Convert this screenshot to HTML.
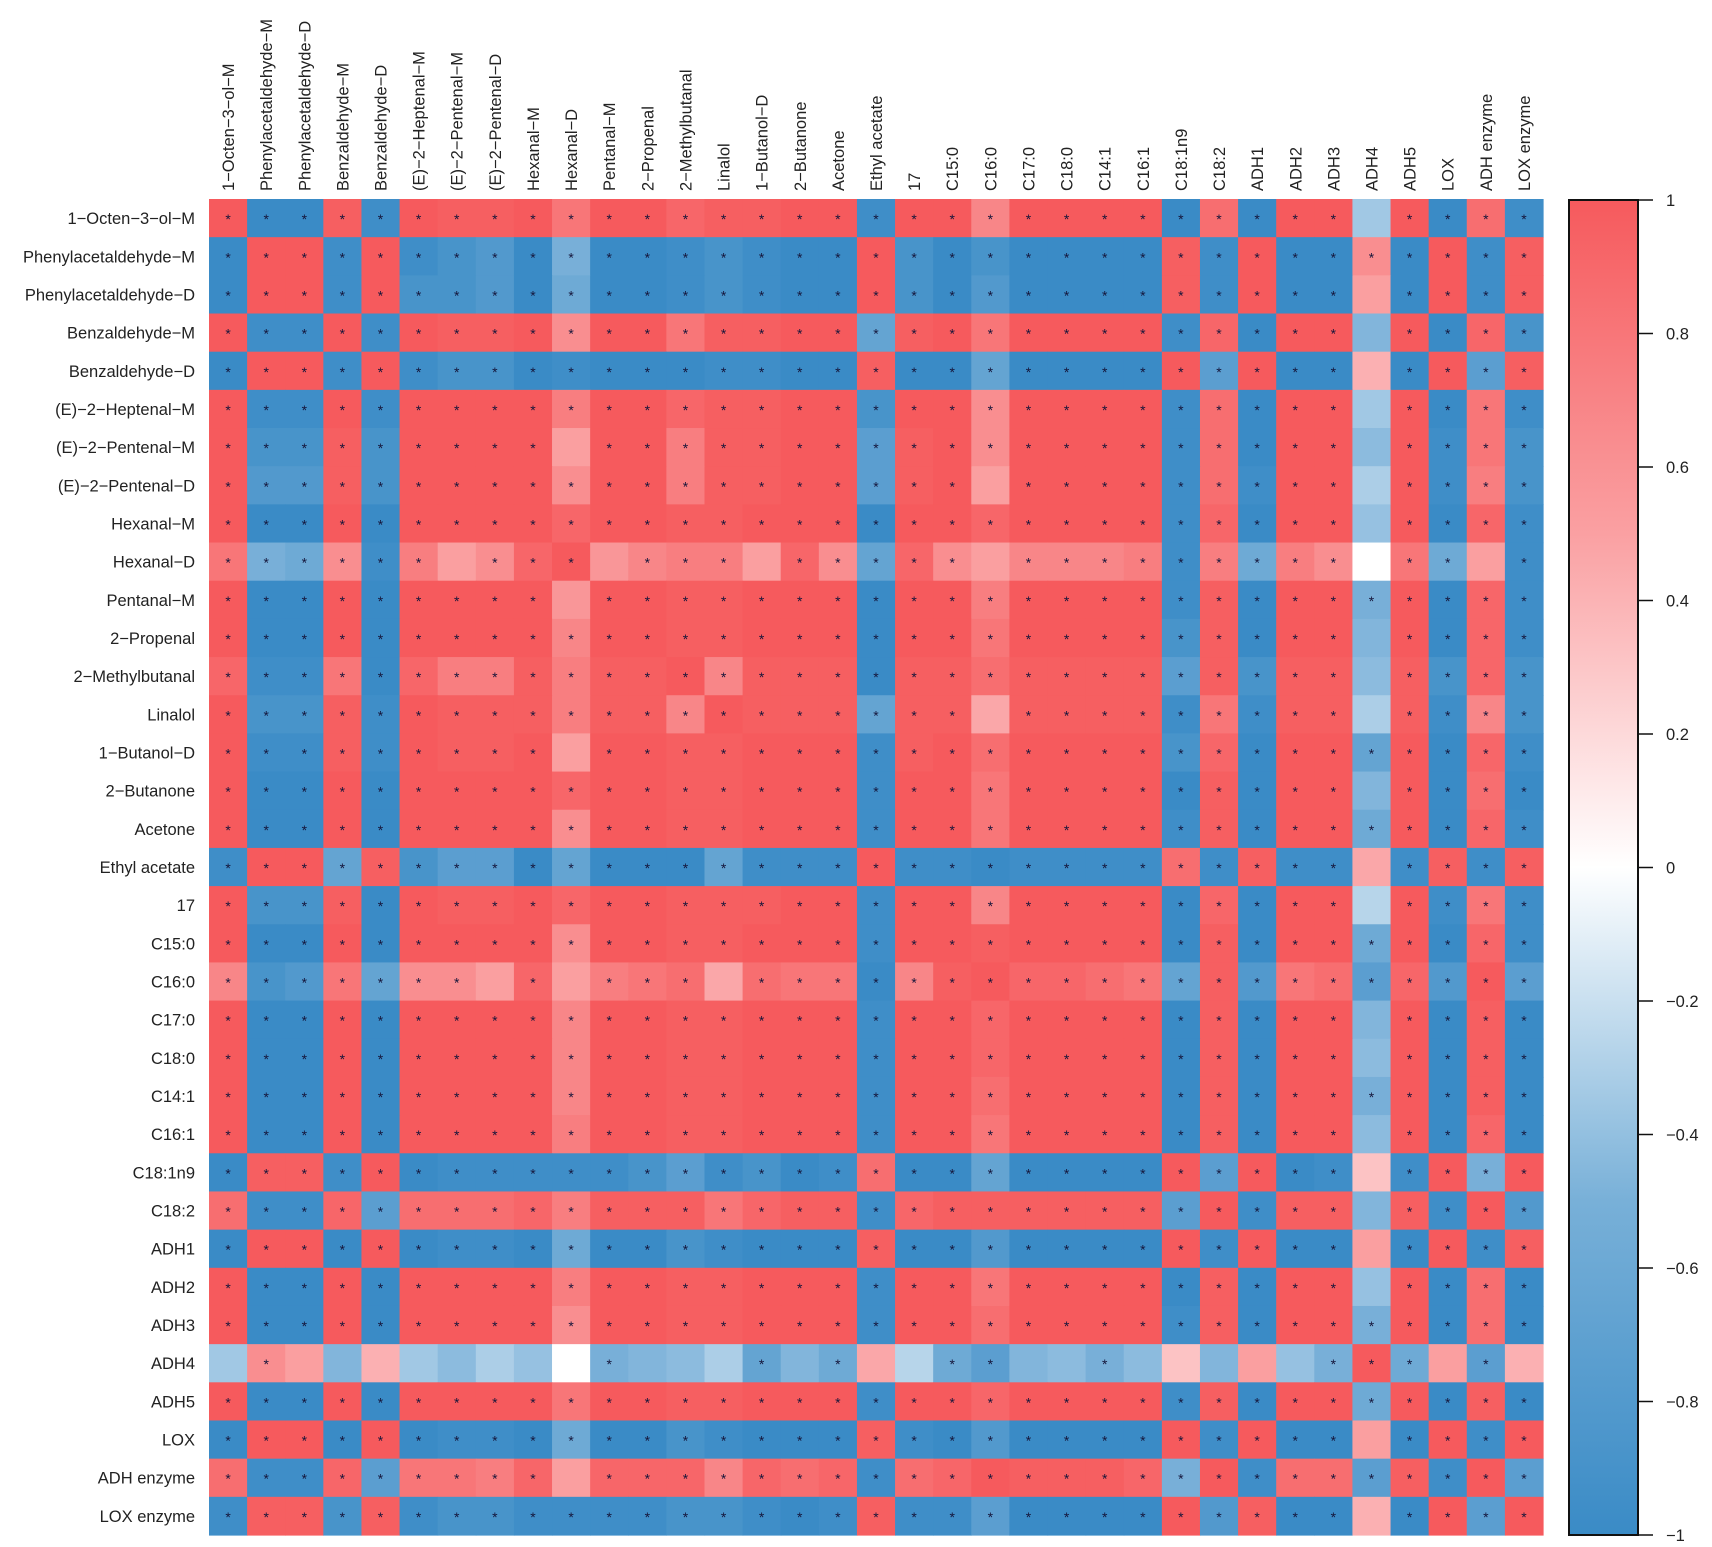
<!DOCTYPE html>
<html><head><meta charset="utf-8"><style>
html,body{margin:0;padding:0;background:#fff;}
svg{display:block;font-family:"Liberation Sans",sans-serif;}
</style></head><body>
<svg id="chart" width="1712" height="1547" viewBox="0 0 1712 1547">
<defs>
<linearGradient id="cbg" x1="0" y1="1" x2="0" y2="0">
<stop offset="0" stop-color="rgb(58,139,198)"/>
<stop offset="0.25" stop-color="rgb(120,176,216)"/>
<stop offset="0.5" stop-color="rgb(255,255,255)"/>
<stop offset="0.75" stop-color="rgb(250,160,162)"/>
<stop offset="1" stop-color="rgb(246,90,93)"/>
</linearGradient>
</defs>
<g id="cells"></g>
<g id="rowlabels"></g>
<g id="collabels"></g>
<g id="colorbar"></g>
</svg>
<script>
const labels = ["1\u2212Octen\u22123\u2212ol\u2212M","Phenylacetaldehyde\u2212M","Phenylacetaldehyde\u2212D","Benzaldehyde\u2212M","Benzaldehyde\u2212D","(E)\u22122\u2212Heptenal\u2212M","(E)\u22122\u2212Pentenal\u2212M","(E)\u22122\u2212Pentenal\u2212D","Hexanal\u2212M","Hexanal\u2212D","Pentanal\u2212M","2\u2212Propenal","2\u2212Methylbutanal","Linalol","1\u2212Butanol\u2212D","2\u2212Butanone","Acetone","Ethyl acetate","17","C15:0","C16:0","C17:0","C18:0","C14:1","C16:1","C18:1n9","C18:2","ADH1","ADH2","ADH3","ADH4","ADH5","LOX","ADH enzyme","LOX enzyme"];
const colorbarTicks = [1,0.8,0.6,0.4,0.2,0,-0.2,-0.4,-0.6,-0.8,-1];
const corr = [
[1,-.9,-.9,.85,-.85,.9,.85,.85,.9,.7,.9,.9,.8,.85,.85,.9,.9,-.85,.9,.9,.6,.9,.9,.9,.9,-.9,.75,-.9,.9,.9,-.35,.9,-.9,.75,-.85],
[-.9,1,.9,-.85,.9,-.85,-.8,-.75,-.9,-.55,-.9,-.9,-.85,-.8,-.85,-.9,-.9,.9,-.8,-.9,-.8,-.9,-.9,-.9,-.9,.85,-.85,.9,-.9,-.9,.55,-.9,.9,-.85,.85],
[-.9,.9,1,-.85,.9,-.8,-.8,-.75,-.9,-.6,-.9,-.9,-.85,-.8,-.85,-.9,-.9,.9,-.8,-.9,-.75,-.9,-.9,-.9,-.9,.85,-.85,.9,-.9,-.9,.45,-.9,.9,-.85,.85],
[.9,-.85,-.85,1,-.85,.9,.85,.85,.9,.55,.9,.9,.7,.85,.85,.9,.9,-.65,.85,.9,.7,.9,.9,.9,.9,-.85,.8,-.9,.9,.9,-.5,.9,-.9,.8,-.8],
[-.9,.9,.9,-.85,1,-.85,-.8,-.8,-.9,-.85,-.9,-.9,-.9,-.85,-.85,-.9,-.9,.85,-.9,-.9,-.65,-.9,-.9,-.9,-.9,.9,-.7,.9,-.9,-.9,.35,-.9,.9,-.7,.85],
[.9,-.85,-.85,.9,-.85,1,.9,.9,.9,.65,.9,.9,.8,.85,.85,.9,.9,-.8,.9,.9,.55,.9,.9,.9,.9,-.85,.75,-.9,.9,.9,-.35,.9,-.9,.7,-.85],
[.9,-.8,-.8,.85,-.8,.9,1,.9,.9,.45,.9,.9,.65,.85,.85,.9,.9,-.7,.85,.9,.55,.9,.9,.9,.9,-.85,.75,-.9,.9,.9,-.45,.9,-.85,.7,-.8],
[.9,-.75,-.75,.85,-.8,.9,.9,1,.9,.55,.9,.9,.65,.85,.85,.9,.9,-.7,.85,.9,.45,.9,.9,.9,.9,-.85,.75,-.85,.9,.9,-.3,.9,-.85,.65,-.8],
[.9,-.9,-.9,.9,-.9,.9,.9,.9,1,.8,.9,.9,.85,.85,.9,.9,.9,-.9,.9,.9,.8,.9,.9,.9,.9,-.85,.8,-.9,.9,.9,-.4,.9,-.9,.8,-.85],
[.7,-.55,-.6,.55,-.85,.65,.45,.55,.8,1,.5,.6,.65,.65,.45,.8,.55,-.65,.8,.55,.45,.6,.6,.6,.65,-.85,.65,-.6,.65,.55,0,.7,-.6,.45,-.85],
[.9,-.9,-.9,.9,-.9,.9,.9,.9,.9,.5,1,.9,.85,.85,.9,.9,.9,-.9,.9,.9,.65,.9,.9,.9,.9,-.85,.85,-.9,.9,.9,-.55,.9,-.9,.8,-.85],
[.9,-.9,-.9,.9,-.9,.9,.9,.9,.9,.6,.9,1,.85,.85,.9,.9,.9,-.9,.9,.9,.7,.9,.9,.9,.9,-.8,.85,-.9,.9,.9,-.5,.9,-.9,.8,-.85],
[.8,-.85,-.85,.7,-.9,.8,.65,.65,.85,.65,.85,.85,1,.6,.85,.85,.85,-.95,.85,.85,.75,.85,.85,.85,.85,-.7,.85,-.8,.85,.85,-.45,.85,-.8,.8,-.8],
[.9,-.8,-.8,.85,-.85,.9,.85,.85,.85,.65,.85,.85,.6,1,.85,.85,.85,-.65,.85,.85,.4,.85,.85,.85,.85,-.85,.7,-.85,.85,.85,-.3,.85,-.85,.6,-.8],
[.9,-.85,-.85,.85,-.85,.9,.85,.85,.9,.45,.9,.9,.85,.85,1,.9,.9,-.85,.85,.9,.75,.9,.9,.9,.9,-.8,.8,-.9,.9,.9,-.65,.9,-.9,.8,-.85],
[.9,-.9,-.9,.9,-.9,.9,.9,.9,.9,.8,.9,.9,.85,.85,.9,1,.9,-.85,.9,.9,.7,.9,.9,.9,.9,-.9,.85,-.9,.9,.9,-.5,.9,-.9,.75,-.9],
[.9,-.9,-.9,.9,-.9,.9,.9,.9,.9,.55,.9,.9,.85,.85,.9,.9,1,-.85,.9,.9,.7,.9,.9,.9,.9,-.85,.85,-.9,.9,.9,-.6,.9,-.9,.8,-.85],
[-.85,.9,.9,-.65,.85,-.8,-.7,-.7,-.9,-.65,-.9,-.9,-.95,-.65,-.85,-.85,-.85,1,-.85,-.85,-.9,-.85,-.85,-.85,-.85,.75,-.85,.85,-.85,-.85,.4,-.85,.85,-.85,.85],
[.9,-.8,-.8,.85,-.9,.9,.85,.85,.9,.8,.9,.9,.85,.85,.85,.9,.9,-.85,1,.9,.6,.9,.9,.9,.9,-.9,.8,-.9,.9,.9,-.25,.9,-.85,.7,-.85],
[.9,-.9,-.9,.9,-.9,.9,.9,.9,.9,.55,.9,.9,.85,.85,.9,.9,.9,-.85,.9,1,.85,.9,.9,.9,.9,-.9,.85,-.9,.9,.9,-.6,.9,-.9,.8,-.85],
[.6,-.8,-.75,.7,-.65,.55,.55,.45,.8,.45,.65,.7,.75,.4,.75,.7,.7,-.9,.6,.85,1,.8,.8,.75,.7,-.65,.85,-.75,.7,.75,-.7,.8,-.75,.9,-.7],
[.9,-.9,-.9,.9,-.9,.9,.9,.9,.9,.6,.9,.9,.85,.85,.9,.9,.9,-.85,.9,.9,.8,1,.9,.9,.9,-.9,.85,-.9,.9,.9,-.5,.9,-.9,.85,-.9],
[.9,-.9,-.9,.9,-.9,.9,.9,.9,.9,.6,.9,.9,.85,.85,.9,.9,.9,-.85,.9,.9,.8,.9,1,.9,.9,-.9,.85,-.9,.9,.9,-.45,.9,-.9,.85,-.9],
[.9,-.9,-.9,.9,-.9,.9,.9,.9,.9,.6,.9,.9,.85,.85,.9,.9,.9,-.85,.9,.9,.75,.9,.9,1,.9,-.9,.85,-.9,.9,.9,-.55,.9,-.9,.85,-.9],
[.9,-.9,-.9,.9,-.9,.9,.9,.9,.9,.65,.9,.9,.85,.85,.9,.9,.9,-.85,.9,.9,.7,.9,.9,.9,1,-.9,.85,-.9,.9,.9,-.45,.9,-.9,.8,-.9],
[-.9,.85,.85,-.85,.9,-.9,-.85,-.85,-.85,-.85,-.85,-.8,-.7,-.85,-.8,-.9,-.85,.75,-.9,-.9,-.65,-.9,-.9,-.9,-.9,1,-.7,.9,-.9,-.85,.25,-.85,.9,-.55,.9],
[.75,-.85,-.85,.8,-.7,.75,.75,.75,.8,.65,.85,.85,.85,.7,.8,.85,.85,-.85,.8,.85,.85,.85,.85,.85,.85,-.7,1,-.85,.85,.85,-.5,.85,-.85,.9,-.75],
[-.9,.9,.9,-.9,.9,-.9,-.85,-.85,-.9,-.6,-.9,-.9,-.8,-.85,-.9,-.9,-.9,.85,-.9,-.9,-.75,-.9,-.9,-.9,-.9,.9,-.85,1,-.9,-.9,.45,-.9,.9,-.85,.85],
[.9,-.9,-.9,.9,-.9,.9,.9,.9,.9,.65,.9,.9,.85,.85,.9,.9,.9,-.85,.9,.9,.7,.9,.9,.9,.9,-.9,.85,-.9,1,.9,-.4,.9,-.9,.75,-.9],
[.9,-.9,-.9,.9,-.9,.9,.9,.9,.9,.55,.9,.9,.85,.85,.9,.9,.9,-.85,.9,.9,.75,.9,.9,.9,.9,-.85,.85,-.9,.9,1,-.55,.9,-.9,.75,-.9],
[-.35,.55,.45,-.5,.35,-.35,-.45,-.3,-.4,0,-.55,-.5,-.45,-.3,-.65,-.5,-.6,.4,-.25,-.6,-.7,-.5,-.45,-.55,-.45,.25,-.5,.45,-.4,-.55,1,-.6,.45,-.7,.35],
[.9,-.9,-.9,.9,-.9,.9,.9,.9,.9,.7,.9,.9,.85,.85,.9,.9,.9,-.85,.9,.9,.8,.9,.9,.9,.9,-.85,.85,-.9,.9,.9,-.6,1,-.9,.85,-.9],
[-.9,.9,.9,-.9,.9,-.9,-.85,-.85,-.9,-.6,-.9,-.9,-.8,-.85,-.9,-.9,-.9,.85,-.85,-.9,-.75,-.9,-.9,-.9,-.9,.9,-.85,.9,-.9,-.9,.45,-.9,1,-.85,.9],
[.75,-.85,-.85,.8,-.7,.7,.7,.65,.8,.45,.8,.8,.8,.6,.8,.75,.8,-.85,.75,.8,.9,.85,.85,.85,.8,-.55,.9,-.85,.75,.75,-.7,.85,-.85,1,-.7],
[-.85,.85,.85,-.8,.85,-.85,-.8,-.8,-.85,-.85,-.85,-.85,-.8,-.8,-.85,-.9,-.85,.85,-.85,-.85,-.7,-.9,-.9,-.9,-.9,.9,-.75,.85,-.9,-.9,.35,-.9,.9,-.7,1]
];
const NS="http://www.w3.org/2000/svg";
const X0=209,X1=1543,Y0=199,Y1=1535;
const n=labels.length, cw=(X1-X0)/n, ch=(Y1-Y0)/n;
const xPos=j=>X0+j*cw, yPos=i=>Y0+i*ch;
const CB={x0:1569,x1:1638,y0:200,y1:1535};
const cbY=v=>CB.y0+(1-v)/2*(CB.y1-CB.y0);
function color(v){
  v=Math.max(-1,Math.min(1,v));
  let c0=[255,255,255], c1 = v>=0?[246,90,93]:[58,139,198];
  const t=Math.min(1,Math.pow(Math.abs(v)/0.88,0.8));
  return "rgb("+c0.map((a,k)=>Math.round(a+(c1[k]-a)*t)).join(",")+")";
}
function mk(tag,attrs,parent){const e=document.createElementNS(NS,tag);for(const k in attrs)e.setAttribute(k,attrs[k]);parent.appendChild(e);return e;}
const gc=document.getElementById('cells');
for(let i=0;i<n;i++)for(let j=0;j<n;j++){
  const v=corr[i][j];
  const r=mk('rect',{x:xPos(j).toFixed(2),y:yPos(i).toFixed(2),width:(cw+0.6).toFixed(2),height:(ch+0.6).toFixed(2),fill:color(v)},gc);
  
  
  if(Math.abs(v)>=0.55){
    const s=mk('text',{x:(xPos(j)+cw/2).toFixed(2),y:(yPos(i)+ch/2+6).toFixed(2),'text-anchor':'middle','font-size':'14',fill:'#15153a'},gc);
    s.textContent='*';
    
    
  }
}
const gr=document.getElementById('rowlabels'), gl=document.getElementById('collabels');
labels.forEach((lab,i)=>{
  const t=mk('text',{x:195,y:(yPos(i)+ch/2+6).toFixed(2),'text-anchor':'end','font-size':'16.5',fill:'#222'},gr);
  t.textContent=lab;
  
  
  const cx=xPos(i)+cw/2+6;
  const c=mk('text',{x:0,y:0,'text-anchor':'start','font-size':'16.5',fill:'#222',transform:'translate('+cx.toFixed(2)+',191) rotate(-90)'},gl);
  c.textContent=lab;
  
  
});
const gb=document.getElementById('colorbar');
const bar=mk('rect',{x:CB.x0,y:CB.y0,width:CB.x1-CB.x0,height:CB.y1-CB.y0,fill:'url(#cbg)',stroke:'#111','stroke-width':'2'},gb);


colorbarTicks.forEach(v=>{
  const y=cbY(v);
  const l=mk('line',{x1:CB.x1,x2:CB.x1+15,y1:y,y2:y,stroke:'#111','stroke-width':'1.5'},gb);
  
  
  const t=mk('text',{x:CB.x1+28,y:y+6,'font-size':'16.5',fill:'#222'},gb);
  t.textContent=(v<0?'\u2212':'')+String(Math.abs(v));
  
  
});
</script>
</body></html>
